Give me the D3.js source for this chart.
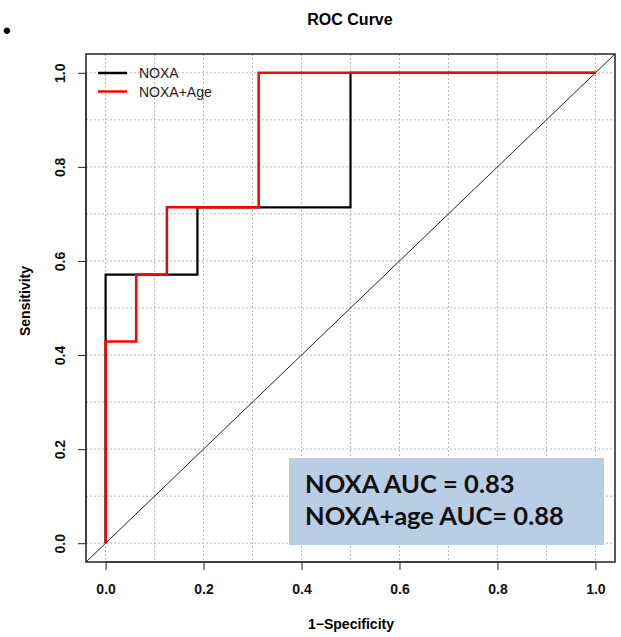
<!DOCTYPE html>
<html><head><meta charset="utf-8">
<script src="https://cdn.jsdelivr.net/npm/d3@7"></script>
<style>body{margin:0;background:#fff}svg{display:block}</style>
</head><body>
<svg id="c" width="621" height="637"></svg>
<script>
// Data (1-Specificity, Sensitivity) step points
const noxaFPR  = [0, 0,     0.1875, 0.1875, 0.5,   0.5, 1];
const noxaTPR  = [0, 0.571, 0.571,  0.714,  0.714, 1,   1];
const ageFPR   = [0, 0,     0.0625, 0.0625, 0.125, 0.125, 0.3125, 0.3125, 1];
const ageTPR   = [0, 0.429, 0.429,  0.571,  0.571, 0.714, 0.714,  1,      1];
const tickVals = [0, 0.2, 0.4, 0.6, 0.8, 1.0];
const gridVals = [0,0.1,0.2,0.3,0.4,0.5,0.6,0.7,0.8,0.9,1.0];
const legendLabels = ["NOXA", "NOXA+Age"];
const aucLines = ["NOXA AUC = 0.83", "NOXA+age AUC= 0.88"];

const FONT = "Liberation Sans, Arial, sans-serif";
const svg = d3.select("#c");
const L = 86, R = 615, T = 54, B = 562;
const x = d3.scaleLinear().domain([-0.04, 1.04]).range([L, R]);
const y = d3.scaleLinear().domain([-0.04, 1.04]).range([B, T]);

// grid
const g = svg.append("g");
g.selectAll(".gx").data(gridVals).join("line")
  .attr("x1", d => x(d)).attr("x2", d => x(d)).attr("y1", T).attr("y2", B)
  .attr("stroke", "#b8b8b8").attr("stroke-width", 1).attr("stroke-dasharray", "2,2");
g.selectAll(".gy").data(gridVals).join("line")
  .attr("y1", d => y(d)).attr("y2", d => y(d)).attr("x1", L).attr("x2", R)
  .attr("stroke", "#b8b8b8").attr("stroke-width", 1).attr("stroke-dasharray", "2,2");

// diagonal
svg.append("line").attr("x1", x(-0.04)).attr("y1", y(-0.04)).attr("x2", x(1.04)).attr("y2", y(1.04))
  .attr("stroke", "#222").attr("stroke-width", 1);

const line = d3.line().x(d => x(d[0])).y(d => y(d[1]));
svg.append("path").datum(d3.zip(noxaFPR, noxaTPR)).attr("d", line)
  .attr("fill", "none").attr("stroke", "#000").attr("stroke-width", 2.2);
svg.append("path").datum(d3.zip(ageFPR, ageTPR)).attr("d", line)
  .attr("fill", "none").attr("stroke", "#ff0000").attr("stroke-width", 2.5);

// box
svg.append("rect").attr("x", L).attr("y", T).attr("width", R - L).attr("height", B - T)
  .attr("fill", "none").attr("stroke", "#222").attr("stroke-width", 1.5);

// axes
const xAxis = d3.axisBottom(x).tickValues(tickVals).tickFormat(d3.format(".1f")).tickSize(8).tickPadding(0);
const gx = svg.append("g").attr("transform", `translate(0,${B})`).call(xAxis);
gx.select(".domain").attr("d", `M${x(0)},0H${x(1)}`).attr("stroke", "#222");
gx.selectAll(".tick line").attr("stroke", "#222");
gx.selectAll("text").attr("y", 32).attr("dy", null)
  .attr("font-family", FONT).attr("font-weight", "bold").attr("font-size", 14).attr("fill", "#111");

const yAxis = d3.axisLeft(y).tickValues(tickVals).tickFormat(d3.format(".1f")).tickSize(8).tickPadding(0);
const gy = svg.append("g").attr("transform", `translate(${L},0)`).call(yAxis);
gy.select(".domain").attr("d", `M0,${y(0)}V${y(1)}`).attr("stroke", "#222");
gy.selectAll(".tick line").attr("stroke", "#222");
gy.selectAll("text")
  .attr("x", null).attr("dy", null).attr("y", 0)
  .attr("text-anchor", "middle")
  .attr("transform", "translate(-21,0) rotate(-90)")
  .attr("font-family", FONT).attr("font-weight", "bold").attr("font-size", 14).attr("fill", "#111");

// titles
svg.append("text").attr("x", 350).attr("y", 25).attr("text-anchor", "middle")
  .attr("font-family", FONT).attr("font-weight", "bold").attr("font-size", 16).text("ROC Curve");
svg.append("text").attr("x", 351).attr("y", 629).attr("text-anchor", "middle")
  .attr("font-family", FONT).attr("font-weight", "bold").attr("font-size", 14).text("1\u2212Specificity");
svg.append("text").attr("transform", "translate(30,301) rotate(-90)").attr("text-anchor", "middle")
  .attr("font-family", FONT).attr("font-weight", "bold").attr("font-size", 14).text("Sensitivity");
svg.append("text").attr("x", 3).attr("y", 38).attr("font-family", FONT)
  .attr("font-size", 22).attr("font-weight", "bold").text("\u2022");

// legend
const legColors = ["#000", "#ff0000"];
const lg = svg.append("g");
legendLabels.forEach((t, i) => {
  const ly = 73 + i * 18.5;
  lg.append("line").attr("x1", 98).attr("x2", 127).attr("y1", ly).attr("y2", ly)
    .attr("stroke", legColors[i]).attr("stroke-width", 2.5);
  lg.append("text").attr("x", 139).attr("y", ly + 5)
    .attr("font-family", FONT).attr("font-size", 14).attr("fill", "#222").text(t);
});

// AUC box
svg.append("rect").attr("x", 289).attr("y", 458).attr("width", 315).attr("height", 87).attr("fill", "#b9cde5");
aucLines.forEach((t, i) => {
  svg.append("text").attr("x", 305).attr("y", 493 + i * 32)
    .attr("font-family", "Lato, sans-serif").attr("font-weight", "bold").attr("font-size", 25.5).attr("fill", "#111").text(t);
});
</script>
</body></html>
